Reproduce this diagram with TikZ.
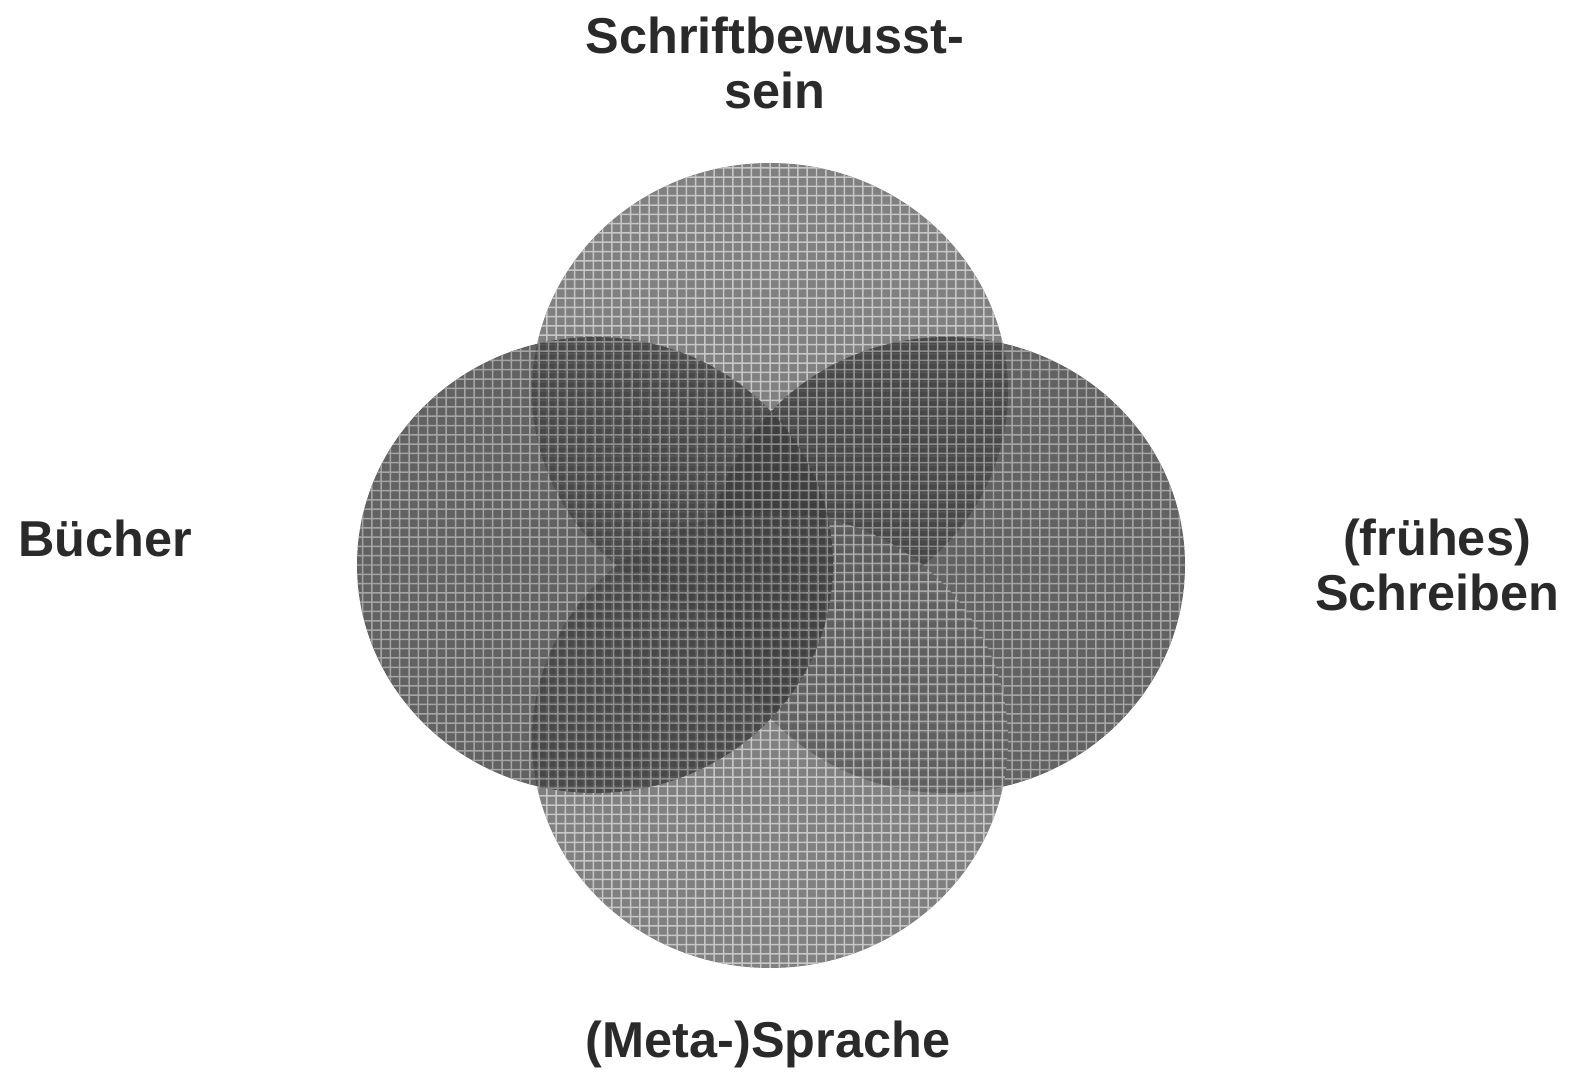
\documentclass[tikz,border=0pt]{standalone}
\usepackage{fontspec}
\setmainfont{Liberation Sans}
\definecolor{labelgray}{HTML}{2A2A2A}
\definecolor{lightdisc}{gray}{0.375}
\definecolor{lightgrid}{gray}{0.725}
\definecolor{darkdisc}{gray}{0.23}
\definecolor{darkgrid}{gray}{0.56}

% one hatched disc: centre, disc colour, grid colour
\newcommand{\hatchdisc}[3]{%
  \begin{scope}[shift={#1}, transparency group, opacity=0.8]
    \fill[#2] (0,0) ellipse (238 and 228);
    \clip (0,0) ellipse (238 and 228);
    \draw[#3, line width=0.85pt, step=0.186cm] (-250,-250) grid (250,250);
  \end{scope}}

\begin{document}
\begin{tikzpicture}[
x=0.02cm, y=-0.02cm,
lbl/.style={font=\fontsize{28.7pt}{31pt}\selectfont\bfseries, text=labelgray, align=center, inner sep=0pt}
]
\useasboundingbox (0,0) rectangle (1570,1074);
\coordinate (top) at (770,391);
\coordinate (right) at (947,565);
\coordinate (bottom) at (770,740);
\coordinate (left) at (595,565);
% discs, drawn clockwise from the top
\hatchdisc{(top)}{lightdisc}{lightgrid}
\hatchdisc{(right)}{darkdisc}{darkgrid}
\hatchdisc{(bottom)}{lightdisc}{lightgrid}
\hatchdisc{(left)}{darkdisc}{darkgrid}
% labels
\node[lbl] (schrift) at (775,63) {Schriftbewusst-\\sein};
\node[lbl] (buecher) at (105,538) {Bücher};
\node[lbl] (schreiben) at (1437,565) {(frühes)\\Schreiben};
\node[lbl] (sprache) at (768,1044) {(Meta-)Sprache};
\end{tikzpicture}
\end{document}
